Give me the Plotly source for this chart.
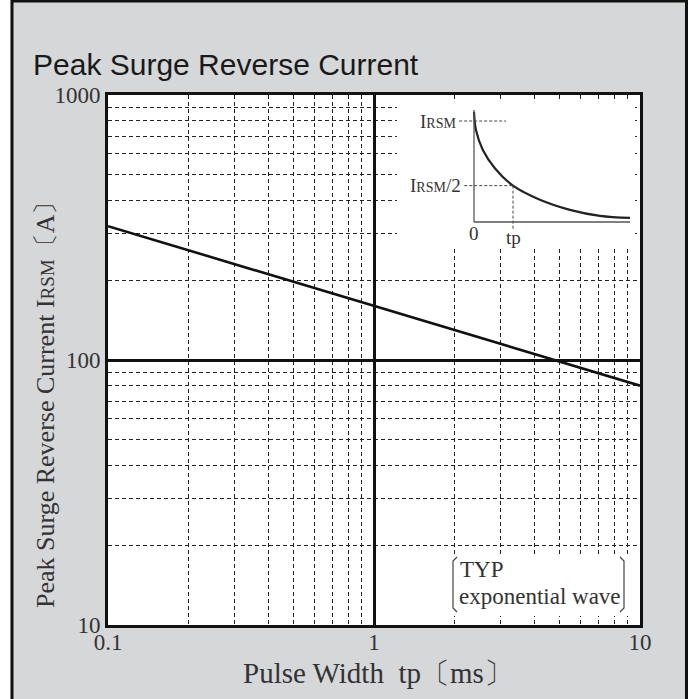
import plotly.graph_objects as go

# ---------------- data ----------------
pulse_width_ms = [0.1, 1, 10]
peak_current_a = [320, 160, 80]

x_tick_vals = [0.1, 1, 10]
x_tick_text = ["0.1", "1", "10"]
y_tick_vals = [10, 100, 1000]
y_tick_text = ["10", "100", "1000"]

# inset schematic (time in units of tp, current in units of IRSM)
inset_t = [0.0, 0.05, 0.23, 0.54, 1.0, 1.69, 2.46, 3.23, 4.0]
inset_i = [1.09, 0.91, 0.71, 0.53, 0.36, 0.22, 0.12, 0.06, 0.04]

# ---------------- layout helpers (pixel -> paper) ----------------
W, H = 692, 699
ML, MR, MT, MB = 108, 52, 95, 74
PW, PH = W - ML - MR, H - MT - MB


def X(px):
    return (px - ML) / PW


def Y(py):
    return (H - MB - py) / PH


SERIF = "Liberation Serif"
TXT = "#333333"
GRAY_BG = "#d5d7d9"

fig = go.Figure()

fig.add_trace(go.Scatter(
    x=pulse_width_ms, y=peak_current_a, mode="lines",
    line=dict(color="#111111", width=2.6),
    xaxis="x", yaxis="y", showlegend=False, hoverinfo="skip",
))

fig.add_trace(go.Scatter(
    x=inset_t, y=inset_i, mode="lines",
    line=dict(color="#222222", width=2.2, shape="spline"),
    xaxis="x2", yaxis="y2", showlegend=False, hoverinfo="skip",
))

minor_grid = dict(showgrid=True, gridcolor="#222222", gridwidth=1,
                  griddash="4px,3px", ticks="", dtick="D1")

fig.update_layout(
    width=W, height=H,
    margin=dict(l=ML, r=MR, t=MT, b=MB, pad=0),
    paper_bgcolor=GRAY_BG, plot_bgcolor="white",
    title=dict(text="Peak Surge Reverse Current", x=33 / W, xanchor="left",
               y=1 - 64 / H, yanchor="middle",
               font=dict(family="Liberation Sans", size=30, color="#1a1a1a")),
    xaxis=dict(type="log", range=[-1, 1], tickmode="array",
               tickvals=x_tick_vals, ticktext=x_tick_text,
               showgrid=True, gridcolor="#111111", gridwidth=2.5,
               minor=minor_grid, ticks="", zeroline=False, ticklabelstandoff=-6,
               showline=True, mirror=True, linecolor="#111111", linewidth=3,
               tickfont=dict(family=SERIF, size=23, color=TXT)),
    yaxis=dict(type="log", range=[1, 3], tickmode="array",
               tickvals=y_tick_vals, ticktext=y_tick_text,
               showgrid=True, gridcolor="#111111", gridwidth=2.5,
               minor=minor_grid, ticks="", zeroline=False,
               showline=True, mirror=True, linecolor="#111111", linewidth=3,
               tickfont=dict(family=SERIF, size=23, color=TXT)),
    xaxis2=dict(domain=[X(397), X(635)], anchor="y2",
                range=[(397 - 474) / 39, (635 - 474) / 39],
                visible=False, showgrid=False, zeroline=False),
    yaxis2=dict(domain=[Y(248), Y(100)], anchor="x2",
                range=[(222 - 248) / 101, (222 - 100) / 101],
                visible=False, showgrid=False, zeroline=False),
)

shapes = []
# outer frame and white strips outside it
shapes.append(dict(type="rect", xref="paper", yref="paper", layer="above",
                   x0=X(-10), x1=X(10.5), y0=Y(710), y1=Y(-10),
                   fillcolor="white", line=dict(width=0)))
shapes.append(dict(type="rect", xref="paper", yref="paper", layer="above",
                   x0=X(688), x1=X(700), y0=Y(710), y1=Y(-10),
                   fillcolor="white", line=dict(width=0)))
shapes.append(dict(type="rect", xref="paper", yref="paper", layer="above",
                   x0=X(12), x1=X(686.5), y0=Y(710), y1=Y(1),
                   fillcolor="rgba(0,0,0,0)", line=dict(color="#111111", width=3)))

# inset axes and guide lines (inset data coordinates)
ax_col = "#555555"
shapes.append(dict(type="line", xref="x2", yref="y2", layer="above",
                   x0=0, x1=0, y0=0, y1=1.11, line=dict(color=ax_col, width=1.3)))
shapes.append(dict(type="line", xref="x2", yref="y2", layer="above",
                   x0=0, x1=4.0, y0=0, y1=0, line=dict(color=ax_col, width=1.3)))
shapes.append(dict(type="line", xref="x2", yref="y2", layer="above",
                   x0=-0.38, x1=0.82, y0=1, y1=1,
                   line=dict(color="#444444", width=1, dash="3px,2px")))
shapes.append(dict(type="line", xref="x2", yref="y2", layer="above",
                   x0=-0.25, x1=1.0, y0=0.36, y1=0.36,
                   line=dict(color="#444444", width=1, dash="3px,2px")))
shapes.append(dict(type="line", xref="x2", yref="y2", layer="above",
                   x0=1.0, x1=1.0, y0=0.36, y1=-0.08,
                   line=dict(color="#444444", width=1, dash="3px,2px")))

# TYP box
shapes.append(dict(type="rect", xref="paper", yref="paper", layer="above",
                   x0=X(449), x1=X(629), y0=Y(616), y1=Y(554),
                   fillcolor="white", line=dict(width=0)))
br_col = "#444444"
shapes.append(dict(type="path", xref="paper", yref="paper", layer="above",
                   path=f"M {X(457)},{Y(557)} L {X(453)},{Y(561)} L {X(453)},{Y(608)} L {X(457)},{Y(612)}",
                   line=dict(color=br_col, width=1.2)))
shapes.append(dict(type="path", xref="paper", yref="paper", layer="above",
                   path=f"M {X(620)},{Y(557)} L {X(624)},{Y(561)} L {X(624)},{Y(608)} L {X(620)},{Y(612)}",
                   line=dict(color=br_col, width=1.2)))
fig.update_layout(shapes=shapes)

ann = []
small = "<span style='font-size:14px'>RSM</span>"
# axis titles
ann.append(dict(xref="paper", yref="paper", x=X(45), y=Y(399),
                text="Peak Surge Reverse Current\u00a0I<span style='font-size:19px'>RSM</span>〔A〕",
                textangle=-90, showarrow=False, xanchor="center", yanchor="middle",
                font=dict(family=SERIF, size=26, color=TXT)))
ann.append(dict(xref="paper", yref="paper", x=X(378), y=Y(673),
                text="Pulse Width\u00a0\u00a0tp〔ms〕", showarrow=False,
                xanchor="center", yanchor="middle",
                font=dict(family=SERIF, size=29, color=TXT)))
# inset labels
inset_font = dict(family=SERIF, size=19, color=TXT)
ann.append(dict(xref="x2", yref="y2", x=-0.4, y=1.0, text=f"I{small}",
                showarrow=False, xanchor="right", yanchor="middle", font=inset_font))
ann.append(dict(xref="x2", yref="y2", x=-0.27, y=0.36, text=f"I{small}/2",
                showarrow=False, xanchor="right", yanchor="middle", font=inset_font))
ann.append(dict(xref="x2", yref="y2", x=0, y=-0.11, text="0",
                showarrow=False, xanchor="center", yanchor="middle", font=inset_font))
ann.append(dict(xref="x2", yref="y2", x=1.0, y=-0.15, text="tp",
                showarrow=False, xanchor="center", yanchor="middle", font=inset_font))
# TYP box text
typ_font = dict(family=SERIF, size=23, color=TXT)
ann.append(dict(xref="paper", yref="paper", x=X(458), y=Y(569), text="TYP",
                showarrow=False, xanchor="left", yanchor="middle", font=typ_font))
ann.append(dict(xref="paper", yref="paper", x=X(457), y=Y(596), text="exponential wave",
                showarrow=False, xanchor="left", yanchor="middle", font=typ_font))
fig.update_layout(annotations=ann)

fig.write_html("out.html", post_script="document.body.style.margin='0px';",
               config={"displayModeBar": False})
